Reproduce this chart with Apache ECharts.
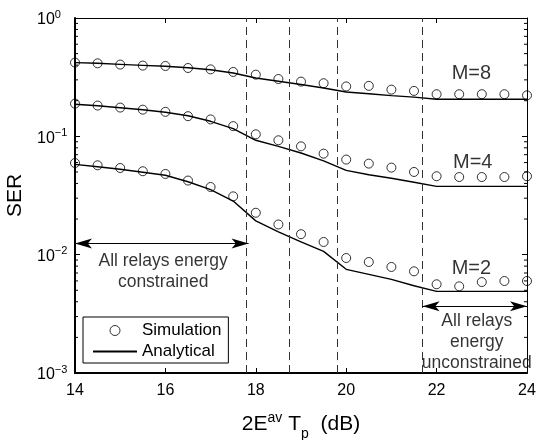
<!DOCTYPE html>
<html>
<head>
<meta charset="utf-8">
<script src="https://cdn.jsdelivr.net/npm/echarts@6/dist/echarts.min.js"></script>
<style>
  html, body { margin: 0; padding: 0; background: #fff; }
  #chart { width: 538px; height: 440px; }
</style>
</head>
<body>
<div id="chart"></div>
<script>
// Average energy-to-noise ratio grid (dB)
const snrDb = [14, 14.5, 15, 15.5, 16, 16.5, 17, 17.5, 18, 18.5, 19, 19.5, 20, 20.5, 21, 21.5, 22, 22.5, 23, 23.5, 24];

// Simulated symbol error rate
const simM8 = [0.420, 0.414, 0.404, 0.396, 0.393, 0.378, 0.368, 0.350, 0.332, 0.305, 0.290, 0.281, 0.264, 0.267, 0.248, 0.242, 0.227, 0.227, 0.227, 0.227, 0.222];
const simM4 = [0.189, 0.182, 0.175, 0.168, 0.161, 0.148, 0.139, 0.122, 0.104, 0.0926, 0.0823, 0.0714, 0.0636, 0.0588, 0.0544, 0.0500, 0.0460, 0.0453, 0.0453, 0.0453, 0.0460];
const simM2 = [0.0595, 0.0569, 0.0540, 0.0507, 0.0481, 0.0423, 0.0373, 0.0311, 0.0226, 0.0180, 0.0149, 0.0128, 0.00937, 0.00867, 0.00787, 0.00723, 0.00562, 0.00540, 0.00587, 0.00599, 0.00599];

// Analytical symbol error rate
const anaM8 = [0.420, 0.414, 0.406, 0.398, 0.391, 0.380, 0.365, 0.343, 0.311, 0.292, 0.274, 0.256, 0.237, 0.229, 0.221, 0.2146, 0.206, 0.206, 0.206, 0.206, 0.206];
const anaM4 = [0.1866, 0.1811, 0.1742, 0.1676, 0.1596, 0.1491, 0.1340, 0.1162, 0.0926, 0.0823, 0.0723, 0.0621, 0.0516, 0.0473, 0.0442, 0.0409, 0.0378, 0.0378, 0.0378, 0.0378, 0.0378];
const anaM2 = [0.0580, 0.0553, 0.0527, 0.0497, 0.0469, 0.0413, 0.0355, 0.0284, 0.0193, 0.0156, 0.01284, 0.01067, 0.00752, 0.00682, 0.00619, 0.00546, 0.0049, 0.0049, 0.0049, 0.0049, 0.0049];

// Regime boundaries (dB) where relays switch between constrained / unconstrained
const regimeBounds = [17.79, 18.73, 19.81, 21.68];

// Double-headed arrows: [x from, x to, SER level]
const arrowConstrained = [14, 17.84, 0.0124];
const arrowUnconstrained = [21.69, 24, 0.00366];

// Text annotations: [x, SER, text]
const curveLabels = [[22.77, 0.339, 'M=8'], [22.80, 0.0607, 'M=4'], [22.77, 0.00771, 'M=2']];
const regionLabels = [[15.95, 0.00714, 'All relays energy\nconstrained'], [22.89, 0.00183, 'All relays\nenergy\nunconstrained']];

// Y tick labels: exponents for 10^0 .. 10^-3
const yTickExp = ['0', '\u22121', '\u22122', '\u22123'];
const xTicks = [14, 16, 18, 20, 22, 24];

const FONT = '"Liberation Sans", Arial, Helvetica, sans-serif';

const pairs = (ys) => snrDb.map((x, i) => [x, ys[i]]);

// log-spaced minor tick positions 2..9 x 10^k
const yMinor = [];
[0.001, 0.01, 0.1].forEach(d => { for (let k = 2; k <= 9; k++) yMinor.push(+(k * d).toPrecision(3)); });

const simStyle = {
  type: 'scatter',
  name: 'Simulation',
  symbol: 'circle',
  symbolSize: 9,
  itemStyle: { color: 'rgba(0,0,0,0)', borderColor: '#000', borderWidth: 1 },
  silent: true,
  z: 4
};
const anaStyle = {
  type: 'line',
  name: 'Analytical',
  symbol: 'none',
  showSymbol: false,
  lineStyle: { color: '#000', width: 1.4 },
  itemStyle: { color: '#000' },
  silent: true,
  z: 3
};

const chart = echarts.init(document.getElementById('chart'), null, { renderer: 'canvas' });

const option = {
  animation: false,
  backgroundColor: '#fff',
  textStyle: { fontFamily: FONT, color: '#000' },
  grid: { left: 75, right: 11, top: 18, bottom: 67, containLabel: false, outerBoundsMode: 'none' },
  legend: {
    orient: 'vertical',
    left: 83,
    top: 317,
    padding: [5, 7, 3, 9],
    itemGap: 4,
    itemWidth: 44,
    itemHeight: 10,
    borderColor: '#000',
    borderWidth: 1,
    backgroundColor: '#fff',
    selectedMode: false,
    textStyle: { fontFamily: FONT, fontSize: 17, color: '#000' },
    data: [
      { name: 'Simulation', icon: 'circle', itemStyle: { color: 'rgba(0,0,0,0)', borderColor: '#000', borderWidth: 1 } },
      { name: 'Analytical', itemStyle: { color: 'rgba(0,0,0,0)', borderColor: 'rgba(0,0,0,0)', borderWidth: 0, opacity: 0 } }
    ]
  },
  xAxis: [
    {
      type: 'value', position: 'bottom', min: 14, max: 24, interval: 2,
      axisLine: { show: true, lineStyle: { color: '#000', width: 2 } },
      axisTick: { show: true, inside: true, length: 5, lineStyle: { color: '#000', width: 1 } },
      splitLine: { show: false },
      axisLabel: {
        show: true, margin: 10, fontSize: 16, fontFamily: FONT, color: '#000',
        showMinLabel: true, showMaxLabel: true,
        formatter: (v) => (xTicks.indexOf(v) >= 0 ? String(v) : '')
      },
      name: '{m|2E}{sup|av}{m| T}{sub|p}{m|  (dB)}',
      nameLocation: 'middle',
      nameGap: 34,
      nameTextStyle: {
        fontFamily: FONT, color: '#000',
        rich: {
          m: { fontSize: 21, fontFamily: FONT, color: '#000', lineHeight: 34, verticalAlign: 'middle' },
          sup: { fontSize: 14, fontFamily: FONT, color: '#000', lineHeight: 14, verticalAlign: 'top', padding: [4, 0, 0, 0] },
          sub: { fontSize: 14, fontFamily: FONT, color: '#000', lineHeight: 14, verticalAlign: 'bottom' }
        }
      }
    },
    {
      type: 'value', position: 'top', min: 14, max: 24, interval: 2,
      axisLine: { show: true, lineStyle: { color: '#000', width: 1 } },
      axisTick: { show: true, inside: true, length: 5, lineStyle: { color: '#000', width: 1 } },
      axisLabel: { show: false },
      splitLine: { show: false }
    }
  ],
  yAxis: [
    {
      type: 'log', logBase: 10, min: 0.001, max: 1, position: 'left',
      axisLine: { show: true, lineStyle: { color: '#000', width: 2 } },
      axisTick: { show: true, inside: true, length: 5, lineStyle: { color: '#000', width: 1 } },
      splitLine: { show: false },
      axisLabel: {
        show: true, align: 'left', margin: 38, padding: [4, 0, 0, 0],
        fontFamily: FONT, color: '#000',
        formatter: (v) => {
          const i = Math.round(-Math.log10(v));
          return '{b|10}{s|' + yTickExp[i] + '}';
        },
        rich: {
          b: { fontSize: 16, fontFamily: FONT, color: '#000', lineHeight: 22 },
          s: { fontSize: 11, fontFamily: FONT, color: '#000', lineHeight: 9, verticalAlign: 'top' }
        }
      },
      name: 'SER',
      nameLocation: 'middle',
      nameGap: 45,
      nameTextStyle: { fontFamily: FONT, fontSize: 21, color: '#000' }
    },
    {
      type: 'log', logBase: 10, min: 0.001, max: 1, position: 'right',
      axisLine: { show: true, lineStyle: { color: '#000', width: 1 } },
      axisTick: { show: true, inside: true, length: 5, lineStyle: { color: '#000', width: 1 } },
      axisLabel: { show: false },
      splitLine: { show: false }
    }
  ],
  series: [
    Object.assign({}, anaStyle, {
      data: pairs(anaM8),
      markLine: {
        silent: true,
        symbol: 'none',
        label: { show: false },
        lineStyle: { type: [8, 5], color: '#333', width: 1 },
        data: regimeBounds.map(x => ({ xAxis: x }))
      }
    }),
    Object.assign({}, anaStyle, {
      data: pairs(anaM4),
      markLine: {
        silent: true,
        symbol: ['arrow', 'arrow'],
        label: { show: false },
        lineStyle: { type: 'solid', color: '#000', width: 1.2 },
        data: [arrowConstrained, arrowUnconstrained].map(a => [
          { coord: [a[0], a[2]], symbol: 'arrow', symbolSize: [7.5, 17] },
          { coord: [a[1], a[2]], symbol: 'arrow', symbolSize: [7.5, 17] }
        ])
      }
    }),
    Object.assign({}, anaStyle, { data: pairs(anaM2) }),
    Object.assign({}, simStyle, { data: pairs(simM8) }),
    Object.assign({}, simStyle, { data: pairs(simM4) }),
    Object.assign({}, simStyle, { data: pairs(simM2) }),
    {
      type: 'scatter',
      name: 'labels',
      silent: true,
      symbolSize: 0,
      z: 6,
      label: {
        show: true, position: 'inside', color: '#000', fontFamily: FONT,
        formatter: (p) => p.name
      },
      data: curveLabels.map(c => ({ value: [c[0], c[1]], name: c[2], label: { fontSize: 20 } }))
        .concat(regionLabels.map(c => ({ value: [c[0], c[1]], name: c[2], label: { fontSize: 17.5, lineHeight: 21 } })))
    },
    {
      type: 'custom',
      name: 'minorTicks',
      silent: true,
      z: 5,
      data: yMinor.map(v => [14, v]),
      renderItem: (params, api) => {
        const v = api.value(1);
        const l = api.coord([14, v]);
        const r = api.coord([24, v]);
        const st = { stroke: '#000', lineWidth: 1 };
        return {
          type: 'group',
          children: [
            { type: 'line', shape: { x1: l[0], y1: l[1], x2: l[0] + 3, y2: l[1] }, style: st },
            { type: 'line', shape: { x1: r[0] - 3, y1: r[1], x2: r[0], y2: r[1] }, style: st }
          ]
        };
      }
    }
  ]
};

chart.setOption(option);
</script>
</body>
</html>
